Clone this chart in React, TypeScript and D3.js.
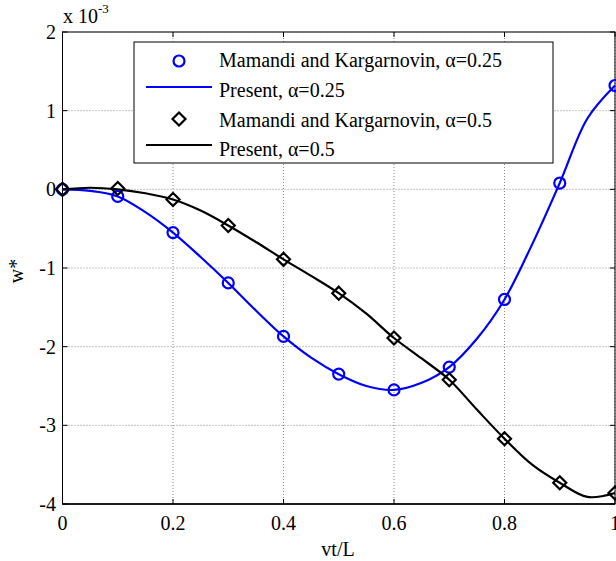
import React from 'react';
import * as d3 from 'd3';

const xTicks = [0, 0.2, 0.4, 0.6, 0.8, 1];
const xTickLabels = ['0', '0.2', '0.4', '0.6', '0.8', '1'];
const yTicks = [-4, -3, -2, -1, 0, 1, 2];
const yTickLabels = ['-4', '-3', '-2', '-1', '0', '1', '2'];

// marker data (x 10^-3)
const xMarks = [0, 0.1, 0.2, 0.3, 0.4, 0.5, 0.6, 0.7, 0.8, 0.9, 1.0];
const refA = [0, -0.09, -0.55, -1.19, -1.87, -2.35, -2.55, -2.26, -1.4, 0.08, 1.32];
const refB = [0, 0.01, -0.13, -0.46, -0.89, -1.32, -1.89, -2.42, -3.17, -3.73, -3.86];

// present solution curves
const xLine = [0, 0.05, 0.1, 0.15, 0.2, 0.25, 0.3, 0.35, 0.4, 0.45, 0.5, 0.55, 0.6, 0.65, 0.7, 0.75, 0.8, 0.85, 0.9, 0.95, 1.0];
const presA = [0, -0.02, -0.09, -0.29, -0.55, -0.86, -1.19, -1.54, -1.87, -2.14, -2.35, -2.5, -2.55, -2.46, -2.26, -1.9, -1.4, -0.7, 0.08, 0.9, 1.32];
const presB = [0, 0.02, 0.0, -0.05, -0.13, -0.27, -0.46, -0.67, -0.89, -1.1, -1.32, -1.58, -1.89, -2.15, -2.42, -2.8, -3.17, -3.5, -3.73, -3.91, -3.86];

const legendLabels = [
  'Mamandi and Kargarnovin, \u03b1=0.25',
  'Present, \u03b1=0.25',
  'Mamandi and Kargarnovin, \u03b1=0.5',
  'Present, \u03b1=0.5',
];

const BLUE = '#0000ff';
const FONT = '"Liberation Serif", "Times New Roman", serif';

export default function App() {
  const W = 616;
  const H = 561;
  const m = { left: 62.5, right: 615, top: 32, bottom: 504 };

  const x = d3.scaleLinear().domain([0, 1]).range([m.left, m.right]);
  const y = d3.scaleLinear().domain([-4, 2]).range([m.bottom, m.top]);

  const line = d3
    .line<number>()
    .x((_, i) => x(xLine[i]))
    .y((d) => y(d))
    .curve(d3.curveCatmullRom.alpha(0.5));

  const diamond = (cx: number, cy: number, r = 6.5) =>
    `M${cx},${cy - r}L${cx + r},${cy}L${cx},${cy + r}L${cx - r},${cy}Z`;

  const tick = 5;
  const fs = 20;

  const leg = { x0: 134, y0: 42, x1: 553, y1: 163 };
  const legBase = [67, 97, 127, 156];

  return (
    <svg
      width={W}
      height={H}
      style={{ position: 'absolute', left: 0, top: 0, background: '#fff' }}
      fontFamily={FONT}
    >
      <rect x={0} y={0} width={W} height={H} fill="#fff" />
      {/* grid */}
      {xTicks.map((t) => (
        <line key={'gx' + t} x1={x(t)} x2={x(t)} y1={m.top} y2={m.bottom} stroke="#888" strokeWidth={1} strokeDasharray="1 2" />
      ))}
      {yTicks.map((t) => (
        <line key={'gy' + t} x1={m.left} x2={m.right} y1={y(t)} y2={y(t)} stroke="#888" strokeWidth={1} strokeDasharray="1 2" />
      ))}
      {/* ticks */}
      {xTicks.map((t) => (
        <g key={'tx' + t} stroke="#000">
          <line x1={x(t)} x2={x(t)} y1={m.bottom} y2={m.bottom - tick} />
          <line x1={x(t)} x2={x(t)} y1={m.top} y2={m.top + tick} />
        </g>
      ))}
      {yTicks.map((t) => (
        <g key={'ty' + t} stroke="#000">
          <line x1={m.left} x2={m.left + tick} y1={y(t)} y2={y(t)} />
          <line x1={m.right} x2={m.right - tick} y1={y(t)} y2={y(t)} />
        </g>
      ))}
      {/* box */}
      <rect x={m.left} y={m.top} width={m.right - m.left} height={m.bottom - m.top} fill="none" stroke="#000" strokeWidth={1} />
      <line x1={m.left} x2={m.right} y1={m.bottom} y2={m.bottom} stroke="#000" strokeWidth={1.6} />

      {/* curves */}
      <path d={line(presA) || ''} fill="none" stroke={BLUE} strokeWidth={2.2} />
      <path d={line(presB) || ''} fill="none" stroke="#000" strokeWidth={2.2} />
      {refA.map((v, i) => (
        <circle key={'ca' + i} cx={x(xMarks[i])} cy={y(v)} r={5.5} fill="none" stroke={BLUE} strokeWidth={2.2} />
      ))}
      {refB.map((v, i) => (
        <path key={'db' + i} d={diamond(x(xMarks[i]), y(v))} fill="none" stroke="#000" strokeWidth={2.2} />
      ))}

      {/* tick labels */}
      {xTicks.map((t, i) => (
        <text key={'lx' + t} x={x(t)} y={530} textAnchor="middle" fontSize={fs}>
          {xTickLabels[i]}
        </text>
      ))}
      {yTicks.map((t, i) => (
        <text key={'ly' + t} x={56} y={y(t) + 7} textAnchor="end" fontSize={fs}>
          {yTickLabels[i]}
        </text>
      ))}
      <text x={63} y={23} fontSize={fs}>
        x 10<tspan fontSize={13} dy={-10}>-3</tspan>
      </text>
      <text x={338} y={556} textAnchor="middle" fontSize={fs}>vt/L</text>
      <text transform="translate(23,271) rotate(-90)" textAnchor="middle" fontSize={fs}>w*</text>

      {/* legend */}
      <rect x={leg.x0} y={leg.y0} width={leg.x1 - leg.x0} height={leg.y1 - leg.y0} fill="#fff" stroke="#000" strokeWidth={1} />
      <circle cx={179} cy={legBase[0] - 6} r={5.5} fill="none" stroke={BLUE} strokeWidth={2.2} />
      <line x1={146} x2={212} y1={legBase[1] - 10} y2={legBase[1] - 10} stroke={BLUE} strokeWidth={2.2} />
      <path d={diamond(179, legBase[2] - 8)} fill="none" stroke="#000" strokeWidth={2.2} />
      <line x1={146} x2={212} y1={legBase[3] - 11} y2={legBase[3] - 11} stroke="#000" strokeWidth={2.2} />
      {legendLabels.map((l, i) => (
        <text key={'leg' + i} x={219} y={legBase[i]} fontSize={fs}>
          {l}
        </text>
      ))}
    </svg>
  );
}
